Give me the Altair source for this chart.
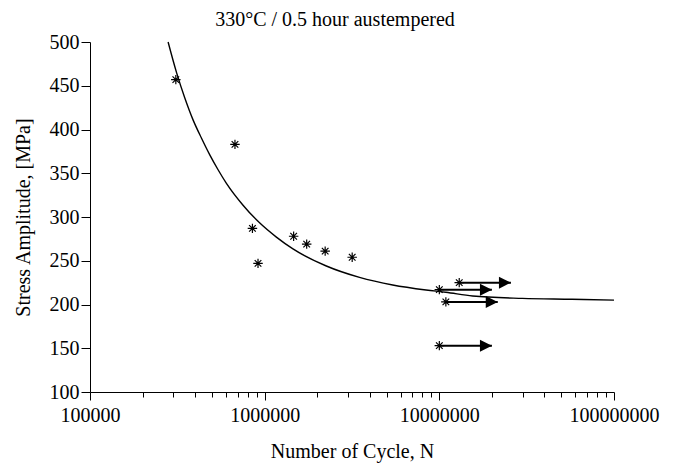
import altair as alt
import pandas as pd

# ---- data ----
fail_N = [310000, 676000, 851000, 916000, 1465000, 1740000, 2220000, 3170000]
fail_S = [457, 383, 287, 247, 278, 269, 261, 254]

runout_N = [10000000, 13000000, 10900000, 10000000]
runout_S = [217, 225, 203, 153]
runout_end = [20000000, 25700000, 21600000, 20000000]

curve_N = [280000, 313000, 349000, 389000, 435000, 485000, 541000, 604000, 752000,
           935000, 1167000, 1452000, 2254000, 3491000, 5408000, 8395000, 10900000,
           15500000, 29900000, 57500000, 100000000]
curve_S = [500, 465, 436, 411, 390, 371, 354, 338.5, 313.5,
           293.3, 277, 263.5, 244, 231, 222.3, 216.6, 214,
           209.7, 207, 206, 205]

x_tick_values = [100000, 200000, 300000, 400000, 500000, 600000, 700000, 800000, 900000,
                 1000000, 2000000, 3000000, 4000000, 5000000, 6000000, 7000000, 8000000, 9000000,
                 10000000, 20000000, 30000000, 40000000, 50000000, 60000000, 70000000, 80000000, 90000000,
                 100000000]
y_tick_values = [100, 125, 150, 175, 200, 225, 250, 275, 300, 325, 350, 375, 400, 425, 450, 475, 500]

FONT = "Liberation Serif"
FS = 20

fail_df = pd.DataFrame({"N": fail_N, "S": fail_S})
run_df = pd.DataFrame({"N": runout_N, "S": runout_S, "E": runout_end})
curve_df = pd.DataFrame({"N": curve_N, "S": curve_S})

x_scale = alt.Scale(type="log", domain=[100000, 100000000])
y_scale = alt.Scale(domain=[100, 500])

x_major = "(datum.value==100000||datum.value==1000000||datum.value==10000000||datum.value==100000000)"
y_major = "(datum.value % 50 == 0)"

common_axis = dict(grid=False, domainColor="black", tickColor="black", labelColor="black",
                   titleColor="black", labelFont=FONT, titleFont=FONT, labelFontSize=FS,
                   titleFontSize=FS, titleFontWeight="normal", labelOverlap=False,
                   labelFlush=False, labelBound=False, domainWidth=1, tickWidth=1)

x_axis = alt.Axis(values=x_tick_values,
                  labelExpr=f"{x_major} ? format(datum.value, 'd') : ''",
                  tickSize={"condition": {"test": x_major, "value": 8}, "value": 5},
                  title="Number of Cycle, N", labelPadding=5, titlePadding=16,
                  **common_axis)
y_axis = alt.Axis(values=y_tick_values,
                  labelExpr=f"{y_major} ? format(datum.value, 'd') : ''",
                  tickSize={"condition": {"test": y_major, "value": 9}, "value": 5},
                  title="Stress Amplitude, [MPa]", labelPadding=2, titlePadding=16,
                  **common_axis)

curve = alt.Chart(curve_df).mark_line(color="black", strokeWidth=1.4, interpolate="monotone").encode(
    x=alt.X("N:Q", scale=x_scale, axis=x_axis),
    y=alt.Y("S:Q", scale=y_scale, axis=y_axis),
)

arrows = alt.Chart(run_df).mark_rule(color="black", strokeWidth=2).encode(
    x=alt.X("N:Q", scale=x_scale), x2="E:Q", y=alt.Y("S:Q", scale=y_scale)
)

heads = alt.Chart(run_df).mark_point(
    shape="M0,0L-2,-1L-2,1Z", filled=True, color="black", size=144, opacity=1
).encode(x=alt.X("E:Q", scale=x_scale), y=alt.Y("S:Q", scale=y_scale))

star = "M-1,0L1,0M0,-1L0,1M-0.7,-0.7L0.7,0.7M-0.7,0.7L0.7,-0.7"
fail_pts = alt.Chart(fail_df).mark_point(shape=star, color="black", size=90, strokeWidth=1.2, opacity=1).encode(
    x=alt.X("N:Q", scale=x_scale), y=alt.Y("S:Q", scale=y_scale)
)
run_pts = alt.Chart(run_df).mark_point(shape=star, color="black", size=90, strokeWidth=1.2, opacity=1).encode(
    x=alt.X("N:Q", scale=x_scale), y=alt.Y("S:Q", scale=y_scale)
)

chart = alt.layer(curve, arrows, heads, fail_pts, run_pts).properties(
    width=524, height=350,
    title=alt.TitleParams("330°C / 0.5 hour austempered", font=FONT, fontSize=20,
                          fontWeight="normal", color="black", anchor="middle",
                          frame="group", dx=-17, offset=2),
    autosize=alt.AutoSizeParams(type="none"),
    padding={"left": 82, "top": 34, "right": 55, "bottom": 72},
).configure_view(stroke=None)

chart.save("out.html", embed_options={"renderer": "svg", "actions": False})
